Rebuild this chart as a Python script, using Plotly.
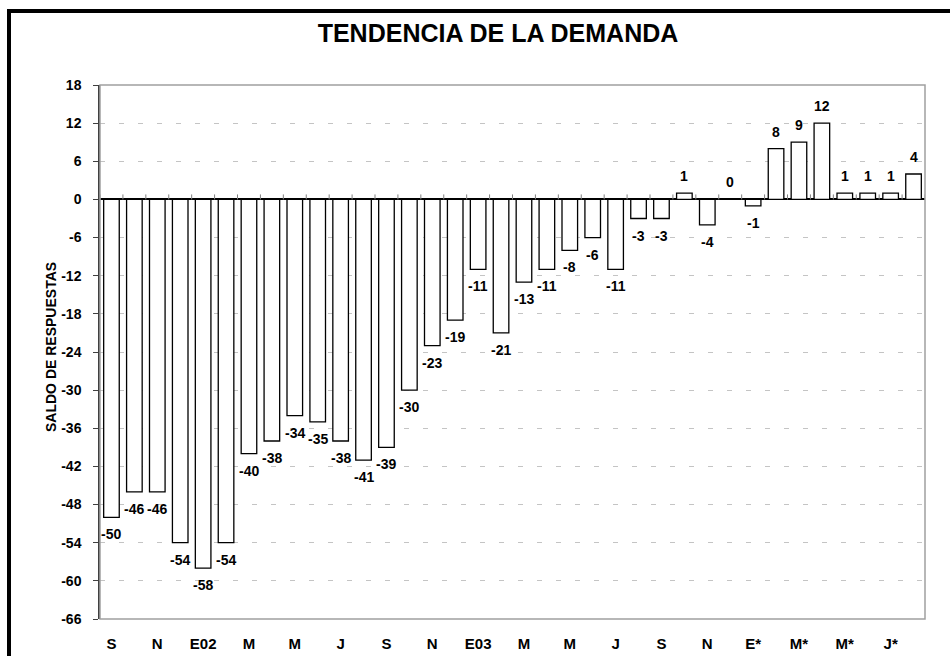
import plotly.graph_objects as go

# Data
months = ["S", "O", "N", "D", "E02", "F", "M", "A", "M", "J", "J", "A",
          "S", "O", "N", "D", "E03", "F", "M", "A", "M", "J", "J", "A",
          "S", "O", "N", "D", "E*", "F*", "M*", "A*", "M*", "J*", "J*", "A*"]
saldo = [-50, -46, -46, -54, -58, -54, -40, -38, -34, -35, -38, -41,
         -39, -30, -23, -19, -11, -21, -13, -11, -8, -6, -11, -3,
         -3, 1, -4, 0, -1, 8, 9, 12, 1, 1, 1, 4]
y_ticks = [18, 12, 6, 0, -6, -12, -18, -24, -30, -36, -42, -48, -54, -60, -66]

FONT = "Liberation Sans, Arial, sans-serif"
W, H = 950, 656
ML, MR, MT, MB = 100, 25, 85, 37
PW, PH = W - ML - MR, H - MT - MB

xs = list(range(len(saldo)))

fig = go.Figure()
fig.add_trace(go.Bar(
    x=xs, y=saldo,
    marker=dict(color="white", line=dict(color="black", width=1.3)),
    width=0.68,
    hoverinfo="x+y",
))

# data labels
for xi, v in zip(xs, saldo):
    fig.add_annotation(
        x=xi, y=v, xref="x", yref="y", text=str(v), showarrow=False,
        yshift=17 if v >= 0 else -17,
        font=dict(family=FONT, size=14, color="black", weight="bold"),
    )

# tick marks on the zero line at category boundaries
for b in [i - 0.5 for i in range(len(saldo) + 1)]:
    fig.add_shape(type="line", xref="x", yref="y", x0=b, x1=b,
                  ysizemode="pixel", yanchor=0, y0=0, y1=5,
                  line=dict(color="#808080", width=1))

# plot area border (grey)
fig.add_shape(type="rect", xref="paper", yref="paper", x0=0, x1=1, y0=0, y1=1,
              line=dict(color="#a0a0a0", width=1.5), layer="above")

# outer thick chart border
fig.add_shape(type="rect", xref="paper", yref="paper",
              x0=(9 - ML) / PW, x1=(W + 40 - ML) / PW,
              y0=-(H + 40 - (MT + PH)) / PH, y1=(MT + PH - 11) / PH,
              line=dict(color="black", width=4), layer="above")

# y-axis title
fig.add_annotation(
    xref="paper", yref="paper", x=(41 - ML) / PW, y=(MT + PH - 347) / PH,
    text="SALDO DE RESPUESTAS", textangle=-90, showarrow=False,
    font=dict(family=FONT, size=14, color="black", weight="bold"),
)

fig.update_layout(
    width=W, height=H,
    margin=dict(l=ML, r=MR, t=MT, b=MB),
    paper_bgcolor="white", plot_bgcolor="white",
    showlegend=False,
    title=dict(text="TENDENCIA DE LA DEMANDA", xref="container", yref="container",
               x=498 / W, y=1 - 33 / H, xanchor="center", yanchor="middle",
               font=dict(family=FONT, size=25, color="black", weight="bold")),
    bargap=0.32,
    xaxis=dict(
        range=[-0.5, len(saldo) - 0.5],
        tickvals=xs[::2], ticktext=months[::2],
        tickfont=dict(family=FONT, size=15, color="black", weight="bold"),
        showgrid=False, zeroline=False, showline=False, ticks="",
        ticklabelstandoff=14, automargin=False,
    ),
    yaxis=dict(
        range=[-66, 18],
        tickvals=y_ticks, ticktext=[str(t) for t in y_ticks],
        tickfont=dict(family=FONT, size=14, color="black", weight="bold"),
        showgrid=True, gridcolor="#c4c4c4", gridwidth=1, griddash="5px,14px",
        zeroline=True, zerolinecolor="black", zerolinewidth=1.5,
        showline=True, linecolor="#404040", linewidth=1.5,
        ticks="outside", ticklen=5, tickcolor="#404040",
        ticklabelstandoff=9, automargin=False,
    ),
)

fig.write_html("out.html", config={"displayModeBar": False},
               post_script="document.body.style.margin='0';document.body.style.overflow='hidden';")
